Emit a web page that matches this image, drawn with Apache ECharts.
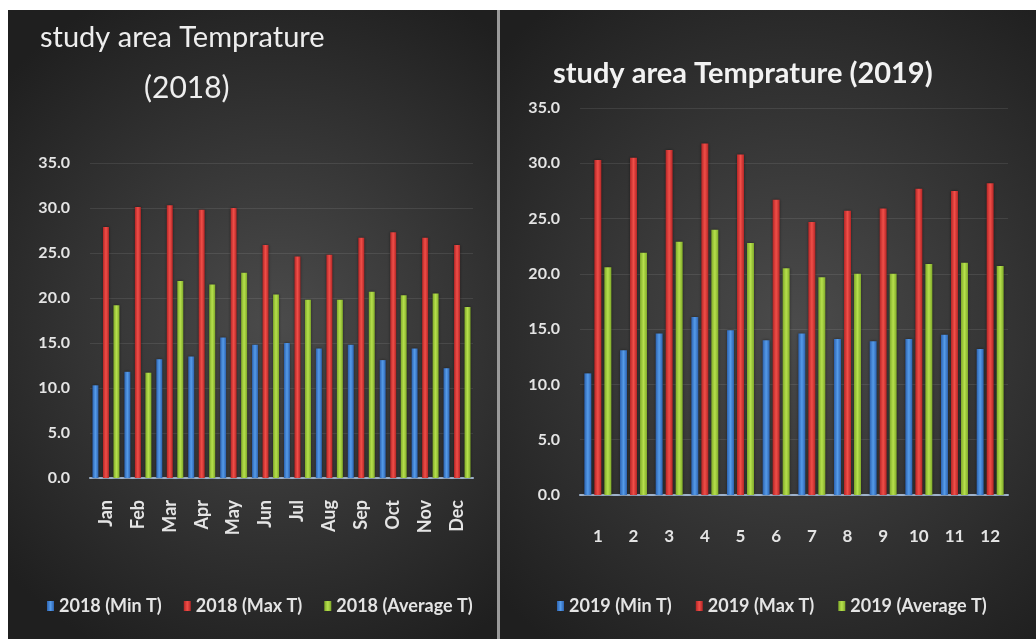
<!DOCTYPE html>
<html>
<head>
<meta charset="utf-8">
<script src="https://cdn.jsdelivr.net/npm/echarts@6/dist/echarts.min.js"></script>
<style>
  html, body { margin: 0; padding: 0; background: #fff; }
  #chart { width: 1036px; height: 639px; }
</style>
</head>
<body>
<div id="chart"></div>
<script>
// month labels for both panels
var months2018 = ['Jan', 'Feb', 'Mar', 'Apr', 'May', 'Jun', 'Jul', 'Aug', 'Sep', 'Oct', 'Nov', 'Dec'];
var months2019 = ['1', '2', '3', '4', '5', '6', '7', '8', '9', '10', '11', '12'];

// 2018 values
var min2018 = [10.3, 11.8, 13.2, 13.5, 15.6, 14.8, 15.0, 14.4, 14.8, 13.1, 14.4, 12.2];
var max2018 = [27.9, 30.1, 30.3, 29.8, 30.0, 25.9, 24.6, 24.8, 26.7, 27.3, 26.7, 25.9];
var avg2018 = [19.2, 11.7, 21.9, 21.5, 22.8, 20.4, 19.8, 19.8, 20.7, 20.3, 20.5, 19.0];

// 2019 values
var min2019 = [11.0, 13.1, 14.6, 16.1, 14.9, 14.0, 14.6, 14.1, 13.9, 14.1, 14.5, 13.2];
var max2019 = [30.3, 30.5, 31.2, 31.8, 30.8, 26.7, 24.7, 25.7, 25.9, 27.7, 27.5, 28.2];
var avg2019 = [20.6, 21.9, 22.9, 24.0, 22.8, 20.5, 19.7, 20.0, 20.0, 20.9, 21.0, 20.7];

var chart = echarts.init(document.getElementById('chart'));

var txt = '#e4e4e4';
var fnt = 'Lato';

function barColor(c1, c2) {
  // lit-cylinder look: darker edges, lighter middle
  return new echarts.graphic.LinearGradient(0, 0, 1, 0, [
    { offset: 0, color: c2 },
    { offset: 0.5, color: c1 },
    { offset: 1, color: c2 }
  ]);
}
var blue = barColor('#559be9', '#2d63b0');
var red = barColor('#f04e48', '#b52626');
var green = barColor('#b6e04c', '#80aa2a');

function panelBg() {
  return new echarts.graphic.RadialGradient(0.55, 0.5, 0.75, [
    { offset: 0, color: '#4b4b4b' },
    { offset: 1, color: '#1f1f1f' }
  ]);
}

function yAx(idx) {
  return {
    type: 'value', gridIndex: idx, min: 0, max: 35, interval: 5,
    axisLine: { show: false }, axisTick: { show: false },
    axisLabel: {
      color: txt, fontFamily: fnt, fontSize: 16, fontWeight: 'bold', margin: 20,
      formatter: function (v) { return v.toFixed(1); }
    },
    splitLine: { lineStyle: { color: 'rgba(255,255,255,0.09)', width: 1 } }
  };
}

function bar(name, data, color, idx, w, gap) {
  return {
    name: name, type: 'bar', xAxisIndex: idx, yAxisIndex: idx,
    data: data, barWidth: w, barGap: gap,
    itemStyle: { color: color, shadowColor: 'rgba(0,0,0,0.5)', shadowBlur: 3 }
  };
}

var legendText = { color: txt, fontFamily: fnt, fontSize: 18, fontWeight: 'bold' };

var option = {
  animation: false,
  backgroundColor: '#ffffff',
  graphic: [
    { type: 'rect', shape: { x: 8, y: 10, width: 489, height: 629 }, style: { fill: panelBg() }, z: -10 },
    { type: 'rect', shape: { x: 497, y: 10, width: 3, height: 629 }, style: { fill: '#9a9a9a' }, z: -10 },
    { type: 'rect', shape: { x: 500, y: 10, width: 536, height: 629 }, style: { fill: panelBg() }, z: -10 }
  ],
  title: [
    { text: 'study area Temprature', left: 35, top: 18,
      textStyle: { color: '#eeeeee', fontFamily: fnt, fontSize: 29, fontWeight: 'normal' } },
    { text: '(2018)', left: 139, top: 68,
      textStyle: { color: '#eeeeee', fontFamily: fnt, fontSize: 30, fontWeight: 'normal' } },
    { text: 'study area Temprature (2019)', left: 548, top: 54,
      textStyle: { color: '#f2f2f2', fontFamily: fnt, fontSize: 29, fontWeight: 'bold' } }
  ],
  legend: [
    {
      data: ['2018 (Min T)', '2018 (Max T)', '2018 (Average T)'],
      left: 42, top: 592, icon: 'rect', itemWidth: 7, itemHeight: 10, itemGap: 22,
      textStyle: legendText
    },
    {
      data: ['2019 (Min T)', '2019 (Max T)', '2019 (Average T)'],
      left: 552, top: 592, icon: 'rect', itemWidth: 7, itemHeight: 10, itemGap: 24,
      textStyle: legendText
    }
  ],
  grid: [
    { left: 90, right: 563, top: 163, bottom: 161 },
    { left: 580, right: 28, top: 108, bottom: 144 }
  ],
  xAxis: [
    {
      type: 'category', gridIndex: 0, data: months2018,
      axisLine: { lineStyle: { color: '#9fb3cc', width: 2 } }, axisTick: { show: false },
      axisLabel: { color: txt, fontFamily: fnt, fontSize: 18, fontWeight: 'bold', rotate: 90, margin: 22, interval: 0 }
    },
    {
      type: 'category', gridIndex: 1, data: months2019,
      axisLine: { lineStyle: { color: '#9fb3cc', width: 2 } }, axisTick: { show: false },
      axisLabel: { color: txt, fontFamily: fnt, fontSize: 17, fontWeight: 'bold', margin: 33, interval: 0 }
    }
  ],
  yAxis: [yAx(0), yAx(1)],
  series: [
    bar('2018 (Min T)', min2018, blue, 0, 6, '75%'),
    bar('2018 (Max T)', max2018, red, 0, 6, '75%'),
    bar('2018 (Average T)', avg2018, green, 0, 6, '75%'),
    bar('2019 (Min T)', min2019, blue, 1, 7, '43%'),
    bar('2019 (Max T)', max2019, red, 1, 7, '43%'),
    bar('2019 (Average T)', avg2019, green, 1, 7, '43%')
  ]
};

chart.setOption(option);
</script>
</body>
</html>
